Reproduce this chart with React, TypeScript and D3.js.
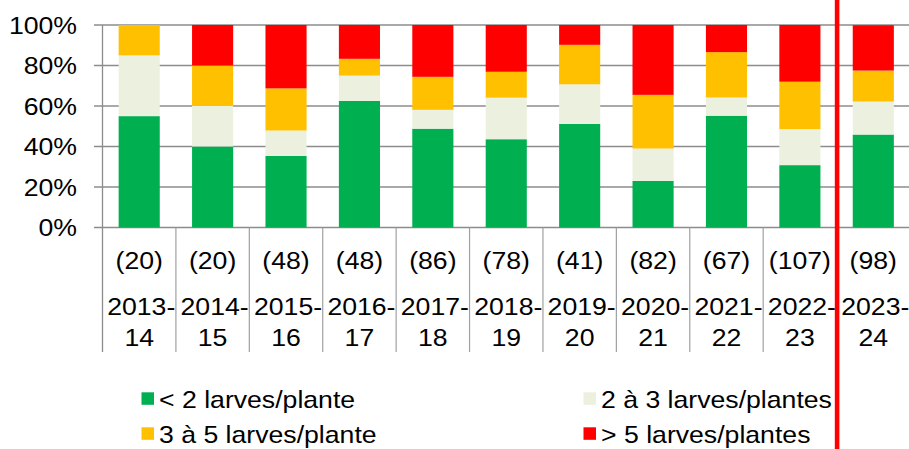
import React from "react";
import * as d3 from "d3";

const seasons = ["2013-14","2014-15","2015-16","2016-17","2017-18","2018-19","2019-20","2020-21","2021-22","2022-23","2023-24"];
const counts = [20, 20, 48, 48, 86, 78, 41, 82, 67, 107, 98];
const lt2 = [55, 40, 35.4, 62.5, 48.8, 43.6, 51.2, 23.0, 55.2, 30.8, 45.9];
const b2to3 = [30, 20, 12.5, 12.5, 9.3, 20.5, 19.5, 16.0, 9.0, 17.8, 16.3];
const b3to5 = [15, 20, 20.8, 8.3, 16.3, 12.8, 19.5, 26.5, 22.4, 23.4, 15.3];
const gt5 = [0, 20, 31.3, 16.7, 25.6, 23.1, 9.8, 34.5, 13.4, 28.0, 22.4];
const seriesNames = ["< 2 larves/plante", "2 à 3 larves/plantes", "3 à 5 larves/plante", "> 5 larves/plantes"];
const seriesColors = ["#00B050", "#EBF1DE", "#FFC000", "#FF0000"];
const yTicks = [0, 20, 40, 60, 80, 100];

const W = 909, H = 449;
const SX = 1.11;
const FONT = "'Liberation Sans', Arial, sans-serif";

export default function App() {
  const x = d3.scaleBand<string>().domain(seasons).range([102.5, 910]).paddingInner(0.44).paddingOuter(0.22);
  const y = d3.scaleLinear().domain([0, 100]).range([227.5, 25]);
  const step = x.step();
  const bw = x.bandwidth();
  const rows = seasons.map((s, i) => ({ s, v0: lt2[i], v1: b2to3[i], v2: b3to5[i], v3: gt5[i] }));
  const stack = d3.stack<any>().keys(["v0", "v1", "v2", "v3"])(rows);
  const sepX = d3.range(seasons.length + 1).map(i => x(seasons[0])! - (step - bw) / 2 + i * step);
  const redX = sepX[10] + 0.5;
  const grid = "#8c8c8c";

  const txt = (tx: number, ty: number, s: string, anchor: string, key?: any) => (
    <text key={key} transform={`translate(${tx},${ty}) scale(${SX},1)`} textAnchor={anchor}
      fontFamily={FONT} fontSize={24} fill="#000">{s}</text>
  );

  const legendPos = [
    { sx: 141.5, ty: 408 },
    { sx: 583.5, ty: 408 },
    { sx: 141.5, ty: 443 },
    { sx: 583.5, ty: 443 },
  ];

  return (
    <svg width={W} height={H} style={{ position: "absolute", left: 0, top: 0, background: "#fff" }}>
      <rect x={0} y={0} width={W} height={H} fill="#fff" />
      {yTicks.map(t => (
        <g key={t}>
          <line x1={94} x2={W} y1={y(t)} y2={y(t)} stroke={grid} strokeWidth={1.3} />
          {txt(77, y(t) + 8.6, `${t}%`, "end")}
        </g>
      ))}
      {stack.map((layer, li) => (
        <g key={li} fill={seriesColors[li]}>
          {layer.map((d, i) => (
            <rect key={i} x={x(seasons[i])} width={bw} y={y(d[1])} height={Math.max(0, y(d[0]) - y(d[1]))} />
          ))}
        </g>
      ))}
      <line x1={sepX[0]} x2={sepX[0]} y1={25} y2={352} stroke={grid} strokeWidth={1.3} />
      {sepX.slice(1).map((sx, i) => (
        <line key={i} x1={sx} x2={sx} y1={227.5} y2={352} stroke="#a0a0a0" strokeWidth={1.2} />
      ))}
      {seasons.map((s, i) => {
        const cx = x(s)! + bw / 2;
        const [a, b] = s.split("-");
        return (
          <g key={s}>
            {txt(cx, 269, `(${counts[i]})`, "middle")}
            {txt(cx + 2, 315, `${a}-`, "middle")}
            {txt(cx, 346, b, "middle")}
          </g>
        );
      })}
      {seriesNames.map((n, i) => (
        <g key={n}>
          <rect x={legendPos[i].sx} y={legendPos[i].ty - 15.7} width={12.5} height={12.5} fill={seriesColors[i]} />
          {txt(legendPos[i].sx + 17.5, legendPos[i].ty, n, "start")}
        </g>
      ))}
      <rect x={redX - 2.3} y={0} width={4.6} height={H} fill="#FF0000" />
    </svg>
  );
}
